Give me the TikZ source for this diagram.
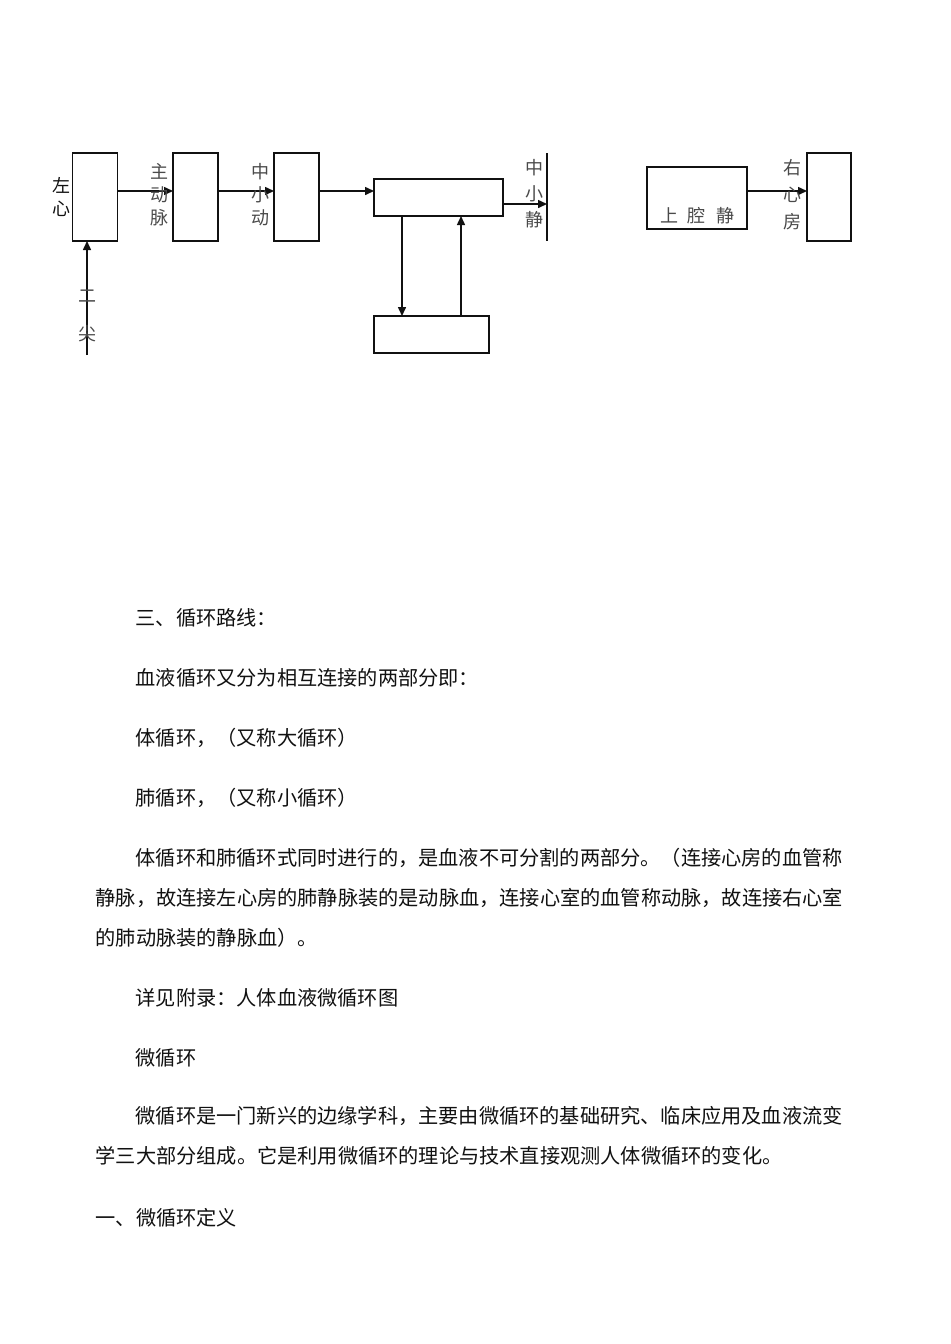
\documentclass[tikz,border=0pt]{standalone}
\usepackage{fontspec}
\setmainfont{Noto Sans CJK SC}
\usetikzlibrary{arrows.meta,calc}
\definecolor{ink}{HTML}{111111}
\definecolor{soft}{HTML}{4A4A4A}
\tikzset{
  every picture/.style={line width=0.75pt, draw=ink, text=ink},
  vessel/.style={draw=ink, fill=white, inner sep=0pt, outer sep=0pt},
  tall/.style={vessel, minimum width=22.5pt, minimum height=44pt},
  flat/.style={vessel, minimum height=18.5pt},
  tag/.style={font=\fontsize{9}{11.5}\selectfont, text=soft, align=center, inner sep=0pt},
  body/.style={font=\fontsize{10.1}{12}\selectfont, anchor=west, inner sep=0pt},
  flow/.style={-{Triangle[length=4.5pt, width=4pt]}, draw=ink},
}
\begin{document}
\begin{tikzpicture}[x=0.5pt, y=-0.5pt]
\path[use as bounding box, fill=white] (0,0) rectangle (950,1344);
% systemic chain
\node[tall] (lheart) at (95,197) {};
\node[tall] (aorta) at (195.5,197) {};
\node[tall] (artery) at (296.5,197) {};
\node[flat, minimum width=64.5pt] (capil) at (438.5,197.5) {};
\node[flat, minimum width=57.5pt] (tissue) at (431.5,334.5) {};
\node[vessel, minimum width=50pt, minimum height=31pt] (svc) at (697,198) {};
\node[tall, minimum width=22pt] (ratrium) at (829,197) {};
\coordinate (vtop) at (547,153);
\coordinate (vbot) at (547,241);
\coordinate (vin) at (547,204);
\coordinate (mitral) at (87,355);
\draw[line width=1.3pt] (vtop) -- (vbot);
% connectors
\draw[flow] ([yshift=3pt]lheart.east) -- ([yshift=3pt]aorta.west);
\draw[flow] ([yshift=3pt]aorta.east) -- ([yshift=3pt]artery.west);
\draw[flow] ([yshift=3pt]artery.east) -- ([yshift=3.25pt]capil.west);
\draw[flow] (capil.east |- vin) -- (vin);
\draw[flow] ([xshift=14pt]capil.south west) -- ([xshift=14pt]tissue.north west);
\draw[flow] ([xshift=43.5pt]tissue.north west) -- ([xshift=43.5pt]capil.south west);
\draw[flow] (mitral) -- (mitral |- lheart.south);
\draw[flow] ([yshift=3.5pt]svc.east) -- ([yshift=3pt]ratrium.west);
% labels
\node[tag, text=ink] (lbl-lh) at (62,197) {左\\心};
\node[tag] (lbl-ao) at (159,195) {主\\动\\脉};
\node[tag] (lbl-ar) at (260,195) {中\\小\\动};
\node[tag, font=\fontsize{9}{13}\selectfont] (lbl-vn) at (534,194) {中\\小\\静};
\node[tag, font=\fontsize{9}{13.5}\selectfont] (lbl-ra) at (792,195) {右\\心\\房};
\node[tag, font=\fontsize{9}{19}\selectfont] (lbl-mi) at (87,316) {二\\尖};
\node[tag] (lbl-svc) at (697,216) {上\hspace{5pt}腔\hspace{5pt}静};
% text below
\node[body] (t1) at (135,618) {三、循环路线：};
\node[body] (t2) at (135,678) {血液循环又分为相互连接的两部分即：};
\node[body] (t3) at (135,738) {体循环，（又称大循环）};
\node[body] (t4) at (135,798) {肺循环，（又称小循环）};
\node[body] (t5) at (135,858) {体循环和肺循环式同时进行的，是血液不可分割的两部分。（连接心房的血管称};
\node[body] (t6) at (95,898) {静脉，故连接左心房的肺静脉装的是动脉血，连接心室的血管称动脉，故连接右心室};
\node[body] (t7) at (95,938) {的肺动脉装的静脉血）。};
\node[body] (t8) at (135,998) {详见附录：人体血液微循环图};
\node[body] (t9) at (135,1058) {微循环};
\node[body] (t10) at (135,1116) {微循环是一门新兴的边缘学科，主要由微循环的基础研究、临床应用及血液流变};
\node[body] (t11) at (95,1156) {学三大部分组成。它是利用微循环的理论与技术直接观测人体微循环的变化。};
\node[body] (t12) at (95,1218) {一、微循环定义};
\end{tikzpicture}
\end{document}
